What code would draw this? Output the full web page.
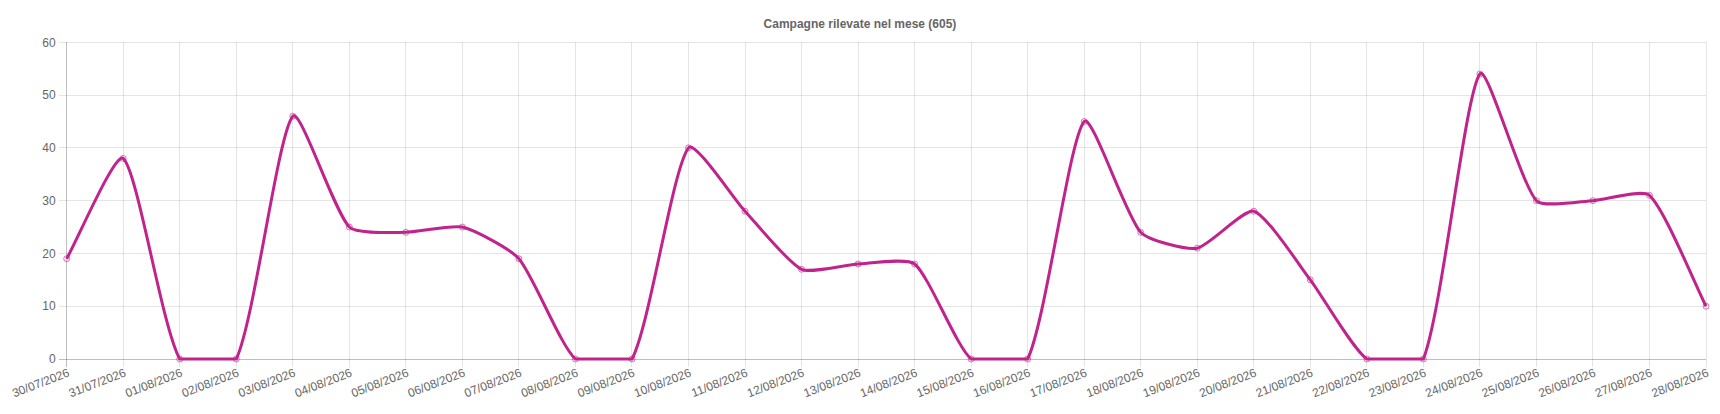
<!DOCTYPE html>
<html>
<head>
<meta charset="utf-8">
<script src="https://cdn.jsdelivr.net/npm/d3@7"></script>
<style>
	html, body { margin: 0; padding: 0; background: #fff; }
	#chart { width: 1720px; height: 414px; }
	text { font-family: 'Helvetica Neue', Helvetica, Arial, 'Liberation Sans', sans-serif; }
</style>
</head>
<body>
<div id="chart"></div>
<script>
const days = [
	'30/07/2026', '31/07/2026', '01/08/2026', '02/08/2026', '03/08/2026', '04/08/2026',
	'05/08/2026', '06/08/2026', '07/08/2026', '08/08/2026', '09/08/2026', '10/08/2026',
	'11/08/2026', '12/08/2026', '13/08/2026', '14/08/2026', '15/08/2026', '16/08/2026',
	'17/08/2026', '18/08/2026', '19/08/2026', '20/08/2026', '21/08/2026', '22/08/2026',
	'23/08/2026', '24/08/2026', '25/08/2026', '26/08/2026', '27/08/2026', '28/08/2026'
]
const campaigns = [
	19, 38, 0, 0, 46, 25, 24, 25, 19, 0, 0, 40, 28, 17, 18, 18, 0, 0, 45, 24, 21, 28, 15, 0, 0,
	54, 30, 30, 31, 10
]
const yTicks = [0, 10, 20, 30, 40, 50, 60]
const chartTitle = 'Campagne rilevate nel mese (' + d3.sum(campaigns) + ')'

const width = 1720
const height = 414
const margin = { top: 42.3, right: 14, bottom: 55, left: 66.7 }
const lineColor = '#c0248c'

const svg = d3
	.select('#chart')
	.append('svg')
	.attr('width', width)
	.attr('height', height)

const x = d3
	.scalePoint()
	.domain(days)
	.range([margin.left, width - margin.right])

const y = d3
	.scaleLinear()
	.domain([0, 60])
	.range([height - margin.bottom, margin.top])

const area = { left: x.range()[0], right: x.range()[1], top: y(60), bottom: y(0) }

// spline like the old chart lib (low tension), control points kept inside the plot
function chartSpline(context) {
	let pts = []
	const t = 0.2
	const cap = (p) => ({
		x: Math.max(area.left, Math.min(area.right, p.x)),
		y: Math.max(area.top, Math.min(area.bottom, p.y))
	})
	return {
		lineStart() { pts = [] },
		lineEnd() {
			const n = pts.length
			const ctrl = pts.map((cur, i) => {
				const prev = pts[i - 1] || cur
				const next = pts[i + 1] || cur
				const d01 = Math.hypot(cur.x - prev.x, cur.y - prev.y)
				const d12 = Math.hypot(next.x - cur.x, next.y - cur.y)
				let s01 = d01 / (d01 + d12)
				let s12 = d12 / (d01 + d12)
				if (isNaN(s01)) s01 = 0
				if (isNaN(s12)) s12 = 0
				return {
					prev: cap({ x: cur.x - t * s01 * (next.x - prev.x), y: cur.y - t * s01 * (next.y - prev.y) }),
					next: cap({ x: cur.x + t * s12 * (next.x - prev.x), y: cur.y + t * s12 * (next.y - prev.y) })
				}
			})
			pts.forEach((p, i) => {
				if (i === 0) {
					if (this._area) context.lineTo(p.x, p.y)
					else context.moveTo(p.x, p.y)
				} else {
					const a = ctrl[i - 1].next
					const b = ctrl[i].prev
					context.bezierCurveTo(a.x, a.y, b.x, b.y, p.x, p.y)
				}
			})
			if (this._area && n) context.closePath()
		},
		areaStart() { this._area = true },
		areaEnd() { this._area = false },
		point(px, py) { pts.push({ x: +px, y: +py }) }
	}
}

// grid
const grid = svg.append('g').attr('stroke-width', 1).attr('shape-rendering', 'crispEdges')

grid
	.selectAll('line.h')
	.data(yTicks)
	.enter()
	.append('line')
	.attr('x1', area.left - 8)
	.attr('x2', area.right)
	.attr('y1', (d) => y(d))
	.attr('y2', (d) => y(d))
	.attr('stroke', (d) => (d === 0 ? 'rgba(0,0,0,0.25)' : 'rgba(0,0,0,0.1)'))

grid
	.selectAll('line.v')
	.data(days)
	.enter()
	.append('line')
	.attr('x1', (d) => x(d))
	.attr('x2', (d) => x(d))
	.attr('y1', area.top)
	.attr('y2', area.bottom + 8)
	.attr('stroke', (d, i) => (i === 0 ? 'rgba(0,0,0,0.25)' : 'rgba(0,0,0,0.1)'))

// y labels
svg
	.append('g')
	.selectAll('text')
	.data(yTicks)
	.enter()
	.append('text')
	.attr('x', area.left - 11)
	.attr('y', (d) => y(d))
	.attr('dy', '0.35em')
	.attr('text-anchor', 'end')
	.attr('font-size', 12)
	.attr('fill', '#666')
	.text((d) => d)

// x labels
svg
	.append('g')
	.selectAll('text')
	.data(days)
	.enter()
	.append('text')
	.attr('transform', (d) => 'translate(' + (x(d) + 2) + ',' + (area.bottom + 13) + ') rotate(-21)')
	.attr('dy', '0.35em')
	.attr('text-anchor', 'end')
	.attr('font-size', 12)
	.attr('fill', '#666')
	.text((d) => d)

// area + line
const areaGen = d3
	.area()
	.x((d, i) => x(days[i]))
	.y0(y(0))
	.y1((d) => y(d))
	.curve(chartSpline)

svg
	.append('path')
	.datum(campaigns)
	.attr('d', areaGen)
	.attr('fill', 'rgba(192,36,140,0.05)')

const lineGen = d3
	.line()
	.x((d, i) => x(days[i]))
	.y((d) => y(d))
	.curve(chartSpline)

svg
	.append('path')
	.datum(campaigns)
	.attr('d', lineGen)
	.attr('fill', 'none')
	.attr('stroke', lineColor)
	.attr('stroke-width', 3)

svg
	.append('g')
	.selectAll('circle')
	.data(campaigns)
	.enter()
	.append('circle')
	.attr('cx', (d, i) => x(days[i]))
	.attr('cy', (d) => y(d))
	.attr('r', 3)
	.attr('fill', 'rgba(192,36,140,0.05)')
	.attr('stroke', 'rgba(192,36,140,0.6)')
	.attr('stroke-width', 1)

// title
svg
	.append('text')
	.attr('x', width / 2)
	.attr('y', 24)
	.attr('dy', '0.35em')
	.attr('text-anchor', 'middle')
	.attr('font-size', 12)
	.attr('font-weight', 'bold')
	.attr('fill', '#666')
	.text(chartTitle)
</script>
</body>
</html>
